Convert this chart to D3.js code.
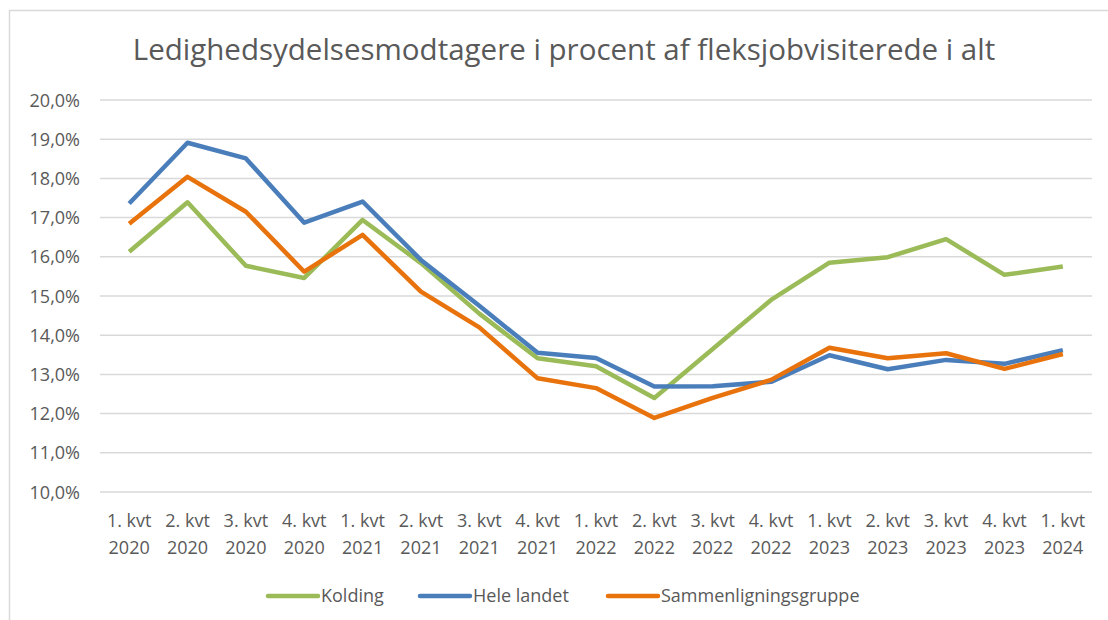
<!DOCTYPE html>
<html>
<head>
<meta charset="utf-8">
<script src="https://cdn.jsdelivr.net/npm/d3@7"></script>
<style>
  body { margin: 0; background: #fff; }
  svg text { font-family: "Open Sans", Lato, sans-serif; fill: #595959; }
</style>
</head>
<body>
<div class="myViz"></div>
<script>
// data
var quarters = ["1. kvt 2020", "2. kvt 2020", "3. kvt 2020", "4. kvt 2020",
  "1. kvt 2021", "2. kvt 2021", "3. kvt 2021", "4. kvt 2021",
  "1. kvt 2022", "2. kvt 2022", "3. kvt 2022", "4. kvt 2022",
  "1. kvt 2023", "2. kvt 2023", "3. kvt 2023", "4. kvt 2023", "1. kvt 2024"];
var kolding = [16.13, 17.39, 15.77, 15.46, 16.94, 15.84, 14.55, 13.41, 13.21, 12.40, 13.65, 14.90, 15.85, 15.99, 16.45, 15.54, 15.75];
var heleLandet = [17.36, 18.91, 18.51, 16.87, 17.41, 15.92, 14.75, 13.55, 13.42, 12.69, 12.70, 12.81, 13.49, 13.13, 13.37, 13.27, 13.62];
var sammenligning = [16.84, 18.04, 17.15, 15.62, 16.56, 15.11, 14.20, 12.90, 12.65, 11.89, 12.40, 12.86, 13.68, 13.41, 13.54, 13.14, 13.52];
var yTicks = [10, 11, 12, 13, 14, 15, 16, 17, 18, 19, 20];
var seriesNames = ["Kolding", "Hele landet", "Sammenligningsgruppe"];
var seriesColors = ["#9BBB59", "#4A7EBB", "#E8720C"];

var W = 1108, H = 620;
var margin = {top: 100, right: 16, bottom: 128, left: 100};

var svg = d3.select(".myViz").append("svg")
  .attr("width", W)
  .attr("height", H);

// chart border (the picture is cropped on the right and bottom)
svg.append("rect")
  .attr("x", 9.5).attr("y", 10.5)
  .attr("width", W + 20).attr("height", H + 20)
  .attr("fill", "none")
  .attr("stroke", "#D9D9D9")
  .attr("stroke-width", 1.5);

svg.append("text")
  .attr("x", 564).attr("y", 60)
  .attr("text-anchor", "middle")
  .style("font-size", "29.5px")
  .text("Ledighedsydelsesmodtagere  i procent af fleksjobvisiterede i alt");

var x = d3.scaleBand()
  .domain(quarters)
  .range([margin.left, W - margin.right]);

var y = d3.scaleLinear()
  .domain([10, 20])
  .range([H - margin.bottom, margin.top]);

// gridlines
svg.append("g")
  .selectAll("line")
  .data(yTicks)
  .enter()
  .append("line")
    .attr("x1", margin.left).attr("x2", W - margin.right)
    .attr("y1", d => y(d)).attr("y2", d => y(d))
    .attr("stroke", "#D9D9D9")
    .attr("stroke-width", 1.5);

// y axis labels
var fmt = d => d3.format(".1f")(d).replace(".", ",") + "%";
svg.append("g")
  .selectAll("text")
  .data(yTicks)
  .enter()
  .append("text")
    .attr("x", 80)
    .attr("y", d => y(d) + 6.5)
    .attr("text-anchor", "end")
    .style("font-size", "18px")
    .text(fmt);

// x axis labels, two lines each
var xl = svg.append("g")
  .selectAll("text")
  .data(quarters)
  .enter()
  .append("text")
    .attr("text-anchor", "middle")
    .style("font-size", "18px");
xl.append("tspan")
  .attr("x", d => x(d) + x.bandwidth() / 2)
  .attr("y", 527)
  .text(d => d.slice(0, 6));
xl.append("tspan")
  .attr("x", d => x(d) + x.bandwidth() / 2)
  .attr("y", 554)
  .text(d => d.slice(7));

// lines
var line = d3.line()
  .x((d, i) => x(quarters[i]) + x.bandwidth() / 2)
  .y(d => y(d));

[kolding, heleLandet, sammenligning].forEach((s, i) => {
  svg.append("path")
    .datum(s)
    .attr("d", line)
    .attr("fill", "none")
    .attr("stroke", seriesColors[i])
    .attr("stroke-width", 4.5)
    .attr("stroke-linejoin", "round");
});

// legend
var legX = [268, 420, 608];
var leg = svg.append("g")
  .selectAll("g")
  .data(seriesNames)
  .enter()
  .append("g")
    .attr("transform", (d, i) => `translate(${legX[i]}, 596)`);
leg.append("line")
  .attr("x1", 0).attr("x2", 50)
  .attr("stroke", (d, i) => seriesColors[i])
  .attr("stroke-width", 4.5)
  .attr("stroke-linecap", "round");
leg.append("text")
  .attr("x", 53).attr("y", 6)
  .style("font-size", "18px")
  .text(d => d);
</script>
</body>
</html>
